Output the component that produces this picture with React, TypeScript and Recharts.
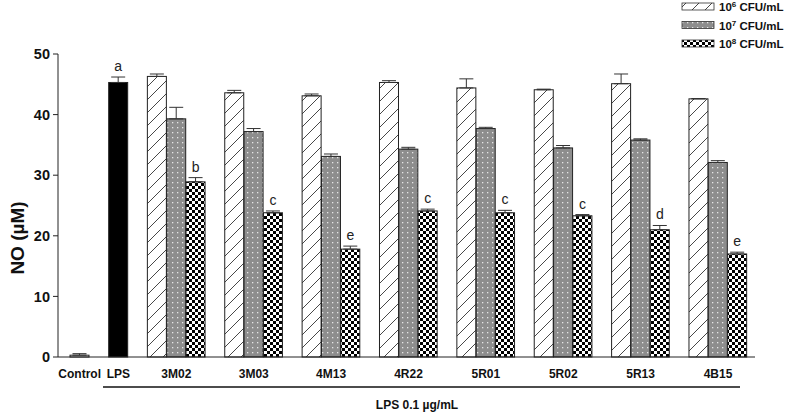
import React from "react";
import { Bar, BarChart, ErrorBar, XAxis, YAxis } from "recharts";

// values
const groups = ["3M02", "3M03", "4M13", "4R22", "5R01", "5R02", "5R13", "4B15"];
const low = [46.3, 43.6, 43.1, 45.3, 44.4, 44.1, 45.1, 42.6];
const lowErr = [0.4, 0.4, 0.3, 0.3, 1.5, 0.1, 1.6, 0.05];
const mid = [39.3, 37.2, 33.1, 34.3, 37.7, 34.5, 35.8, 32.1];
const midErr = [1.9, 0.5, 0.4, 0.3, 0.2, 0.4, 0.2, 0.3];
const high = [28.9, 23.8, 17.8, 24.1, 23.8, 23.3, 21.0, 17.0];
const highErr = [0.7, 0.3, 0.5, 0.3, 0.4, 0.2, 0.7, 0.3];
const highLetters = ["b", "c", "e", "c", "c", "c", "d", "e"];

const control = 0.3;
const controlErr = 0.25;
const lps = 45.3;
const lpsErr = 0.9;
const lpsLetter = "a";

const yTicks = [0, 10, 20, 30, 40, 50];
const legendNames = [
  { base: "10", sup: "6", fill: "url(#hatch)" },
  { base: "10", sup: "7", fill: "url(#dots)" },
  { base: "10", sup: "8", fill: "url(#checks)" },
];

const font = "Arial, 'Liberation Sans', sans-serif";

// one row per bar slot, empty slots make the gaps
type Row = { [k: string]: any };
const rows: Row[] = [];
rows.push({ key: "Control", ctrl: control, ctrlErr: [0, controlErr] });
rows.push({ key: "_g0" });
rows.push({ key: "LPS", lps: lps, lpsErr: [0, lpsErr], letter: lpsLetter, err: lpsErr });
groups.forEach((g, i) => {
  rows.push({ key: "_g" + (i + 1) });
  rows.push({ key: "_a" + i, s1: low[i], s1Err: [0, lowErr[i]] });
  rows.push({ key: g, s2: mid[i], s2Err: [0, midErr[i]] });
  rows.push({ key: "_c" + i, s3: high[i], s3Err: [0, highErr[i]], letter: highLetters[i], err: highErr[i] });
});

const BarShape = (props: any) => {
  const { x, y, width, height, fill, payload, value } = props;
  if (!height || height <= 0) return null;
  const v = Array.isArray(value) ? value[1] - value[0] : value;
  let letter = null;
  if (payload && payload.letter) {
    const pxPerUnit = height / v;
    const top = y - (payload.err || 0) * pxPerUnit;
    letter = (
      <text x={x + width / 2} y={top - 6} textAnchor="middle" fontSize={14} fontFamily={font} fill="#222">
        {payload.letter}
      </text>
    );
  }
  return (
    <g>
      <rect x={x} y={y} width={width} height={height} fill={fill} stroke="#222" strokeWidth={1} />
      {letter}
    </g>
  );
};

const XTick = (props: any) => {
  const { x, y, payload } = props;
  const v = String(payload.value);
  if (v.startsWith("_")) return null;
  return (
    <text x={x} y={y + 13} textAnchor="middle" fontSize={12} fontWeight="bold" fontFamily={font} fill="#111">
      {v}
    </text>
  );
};

export default function App() {
  return (
    <div style={{ position: "absolute", left: 0, top: 0, width: 788, height: 414 }}>
      <svg width={0} height={0} style={{ position: "absolute" }}>
        <defs>
          <pattern id="hatch" patternUnits="userSpaceOnUse" width={13} height={13}>
            <rect width={13} height={13} fill="#fff" />
            <path d="M0,13 L13,0 M-2,2 L2,-2 M11,15 L15,11" stroke="#333" strokeWidth={0.9} />
          </pattern>
          <pattern id="dots" patternUnits="userSpaceOnUse" width={5} height={5}>
            <rect width={5} height={5} fill="#8d8d8d" />
            <rect x={2} y={2} width={1.3} height={1.3} fill="#e6e6e6" />
          </pattern>
          <pattern id="checks" patternUnits="userSpaceOnUse" width={6} height={6}>
            <rect width={6} height={6} fill="#fff" />
            <rect x={0} y={0} width={3} height={3} fill="#000" />
            <rect x={3} y={3} width={3} height={3} fill="#000" />
          </pattern>
        </defs>
      </svg>
      <BarChart
        width={788}
        height={414}
        data={rows}
        margin={{ top: 54, right: 33, left: 0, bottom: 27 }}
        barCategoryGap={0}
        barGap={0}
      >
        <XAxis
          dataKey="key"
          interval={0}
          tickLine={false}
          axisLine={{ stroke: "#222" }}
          padding={{ left: 12, right: 8 }}
          height={30}
          tick={<XTick />}
        />
        <YAxis
          domain={[0, 50]}
          ticks={yTicks}
          width={58}
          tickSize={5}
          tickMargin={3}
          axisLine={{ stroke: "#222" }}
          tickLine={{ stroke: "#222" }}
          tick={{ fontSize: 14.5, fontWeight: "bold", fontFamily: font, fill: "#111" }}
        />
        <Bar dataKey="ctrl" stackId="a" fill="#fff" shape={BarShape} isAnimationActive={false}>
          <ErrorBar dataKey="ctrlErr" width={7} stroke="#333" strokeWidth={1} />
        </Bar>
        <Bar dataKey="lps" stackId="a" fill="#000" shape={BarShape} isAnimationActive={false}>
          <ErrorBar dataKey="lpsErr" width={7} stroke="#333" strokeWidth={1} />
        </Bar>
        <Bar dataKey="s1" stackId="a" fill="url(#hatch)" shape={BarShape} isAnimationActive={false}>
          <ErrorBar dataKey="s1Err" width={7} stroke="#333" strokeWidth={1} />
        </Bar>
        <Bar dataKey="s2" stackId="a" fill="url(#dots)" shape={BarShape} isAnimationActive={false}>
          <ErrorBar dataKey="s2Err" width={7} stroke="#333" strokeWidth={1} />
        </Bar>
        <Bar dataKey="s3" stackId="a" fill="url(#checks)" shape={BarShape} isAnimationActive={false}>
          <ErrorBar dataKey="s3Err" width={7} stroke="#333" strokeWidth={1} />
        </Bar>
      </BarChart>
      <svg width={788} height={414} style={{ position: "absolute", left: 0, top: 0, pointerEvents: "none" }}>
        <text
          x={17}
          y={238}
          transform="rotate(-90, 17, 238)"
          textAnchor="middle"
          dominantBaseline="central"
          fontSize={19}
          fontWeight="bold"
          fontFamily={font}
          fill="#111"
        >
          NO ({"\u00b5"}M)
        </text>
        <line x1={103} y1={387} x2={740} y2={387} stroke="#111" strokeWidth={1.5} />
        <text x={417} y={409} textAnchor="middle" fontSize={12} fontWeight="bold" fontFamily={font} fill="#111">
          LPS 0.1 {"\u00b5"}g/mL
        </text>
        {legendNames.map((l, i) => (
          <g key={i}>
            <rect x={682} y={3 + i * 18.5} width={32} height={7} fill={l.fill} stroke="#333" strokeWidth={0.8} />
            <text x={719} y={11 + i * 18.5} fontSize={11.5} fontWeight="bold" fontFamily={font} fill="#111">
              {l.base}
              <tspan fontSize={8} dy={-4}>{l.sup}</tspan>
              <tspan dy={4}> CFU/mL</tspan>
            </text>
          </g>
        ))}
      </svg>
    </div>
  );
}
